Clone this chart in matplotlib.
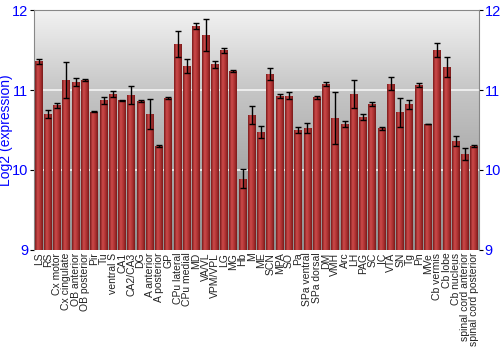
import numpy as np
import matplotlib.pyplot as plt
from matplotlib.colors import LinearSegmentedColormap

plt.rcParams['font.family'] = ['Liberation Sans', 'DejaVu Sans']

regions = ['LS', 'RS', 'Cx motor', 'Cx cingulate', 'OB anterior', 'OB posterior',
           'Pir', 'Tu', 'ventral S', 'CA1', 'CA2/CA3', 'DG', 'A anterior',
           'A posterior', 'GP', 'CPu lateral', 'CPu medial', 'MD', 'VA/VL',
           'VPM/VPL', 'LG', 'MG', 'Hb', 'M', 'ME', 'SCN', 'MPA', 'SO', 'Pa',
           'SPa ventral', 'SPa dorsal', 'DM', 'VMH', 'Arc', 'LH', 'PAG', 'SC',
           'IC', 'VTA', 'SN', 'Tg', 'Pn', 'MVe', 'Cb vermis', 'Cb lobe',
           'Cb nucleus', 'spinal cord anterior', 'spinal cord posterior']
expression = [11.36, 10.70, 10.81, 11.13, 11.10, 11.13, 10.73, 10.87, 10.95,
              10.87, 10.94, 10.86, 10.70, 10.30, 10.90, 11.58, 11.30, 11.80,
              11.69, 11.32, 11.50, 11.24, 9.89, 10.69, 10.475, 11.20, 10.925,
              10.93, 10.50, 10.525, 10.91, 11.075, 10.65, 10.575, 10.95, 10.66,
              10.83, 10.52, 11.08, 10.72, 10.825, 11.06, 10.575, 11.50, 11.29,
              10.36, 10.20, 10.30]
error = [0.03, 0.05, 0.03, 0.225, 0.045, 0.012, 0.01, 0.044, 0.04, 0.01, 0.11,
         0.01, 0.19, 0.01, 0.01, 0.165, 0.09, 0.04, 0.2, 0.04, 0.03, 0.01, 0.12,
         0.11, 0.08, 0.07, 0.02, 0.045, 0.04, 0.06, 0.02, 0.02, 0.325, 0.04,
         0.17, 0.04, 0.025, 0.02, 0.085, 0.18, 0.056, 0.027, 0.005, 0.09, 0.13,
         0.065, 0.07, 0.017]

fig = plt.figure(figsize=(5, 3.5), dpi=100)
ax = fig.add_axes([0.068, 0.286, 0.89, 0.685])

x = np.arange(len(regions))
ax.set_xlim(-0.5, len(regions) - 0.5)
ax.set_ylim(9, 12)

# gray background gradient
bg = LinearSegmentedColormap.from_list('bg', ['#8f8f8f', '#a8a8a8', '#c6c6c6', '#f2f2f2'])
grad = np.linspace(0, 1, 256).reshape(-1, 1)
ax.imshow(grad, cmap=bg, aspect='auto', origin='lower',
          extent=[-0.5, len(regions) - 0.5, 9, 12], zorder=0)
for yv in [10, 11]:
    ax.axhline(yv, color='#f4f4f4', lw=1.2, zorder=1)

# bars with a horizontal shading
bar_cmap = LinearSegmentedColormap.from_list('bar', ['#7a1a1a', '#cc4a4a', '#b03434', '#7a1a1a'])
hgrad = np.linspace(0, 1, 64).reshape(1, -1)
bars = ax.bar(x, np.array(expression) - 9, bottom=9, width=0.86,
              color='#a83030', edgecolor='none', zorder=2)
for b in bars:
    im = ax.imshow(hgrad, cmap=bar_cmap, aspect='auto',
                   extent=[b.get_x(), b.get_x() + b.get_width(), 9, 9 + b.get_height()],
                   zorder=2)
    im.set_clip_path(b)

ax.errorbar(x, expression, yerr=error, fmt='none', ecolor='black',
            elinewidth=1, capsize=2, capthick=1, zorder=3)

ax.set_xticks(x)
ax.set_xticklabels(regions, rotation=90, fontsize=7.5, color='#222222')
ax.tick_params(axis='x', length=0, pad=2)
ax.set_yticks([9, 10, 11, 12])
ax.tick_params(axis='y', labelsize=10.5, labelcolor='blue', length=3, pad=1,
               left=True, right=True, labelleft=True, labelright=True)
ax.set_ylabel('Log2 (expression)', color='blue', fontsize=10)
ax.yaxis.set_label_coords(-0.047, 0.5)

for s in ax.spines.values():
    s.set_color('#888888')
ax.spines['bottom'].set_visible(False)

fig.savefig('out.png', dpi=100)
